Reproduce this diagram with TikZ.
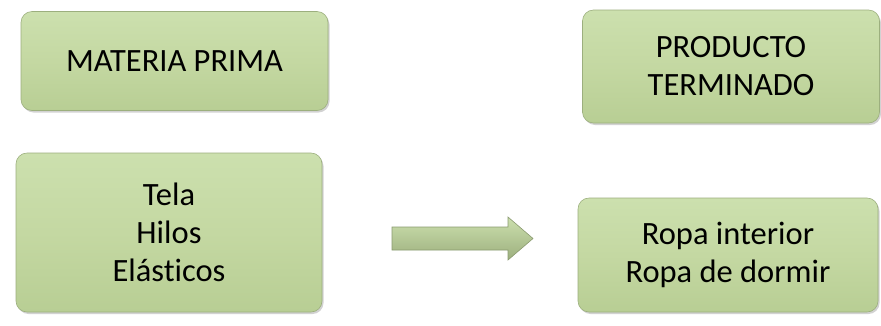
\documentclass[tikz,border=0pt]{standalone}
\usepackage{fontspec}
\setmainfont[Ligatures=NoCommon]{Carlito}
\usetikzlibrary{shadows}
\definecolor{boxgreen}{RGB}{196,216,162}
\definecolor{boxtop}{RGB}{204,224,174}
\definecolor{boxbot}{RGB}{184,206,148}
\definecolor{glow}{RGB}{232,232,232}
\tikzset{
  greenbox/.style={rectangle, rounded corners=11pt, inner sep=0pt,
    top color=boxtop, bottom color=boxbot, middle color=boxgreen,
    draw=boxbot!85!black, line width=0.6pt,
    drop shadow={shadow xshift=1.5pt, shadow yshift=-2pt, opacity=0.35, fill=gray},
    align=center, font=\fontsize{32.5}{38}\selectfont, text=black},
  blockarrow/.style={top color=boxtop, bottom color=boxbot!85!black,
    draw=boxbot!75!black, line width=0.6pt, line join=miter}
}
\begin{document}
\begin{tikzpicture}[x=1pt,y=-1pt]
\useasboundingbox[fill=white] (0,0) rectangle (881,325);
\node[greenbox, minimum width=307pt, minimum height=99pt] (mp) at (174.5,61) {MATERIA PRIMA};
\node[greenbox, minimum width=306pt, minimum height=159pt] (ins) at (169,232.5) {Tela\\Hilos\\Elásticos};
\node[greenbox, minimum width=297pt, minimum height=113pt] (pt) at (731,66.5) {PRODUCTO\\TERMINADO};
\node[greenbox, minimum width=300pt, minimum height=114pt] (prod) at (728,255) {Ropa interior\\Ropa de dormir};
\path[blockarrow] (392,227) -- (508,227) -- (508,217) -- (533,238.5) -- (508,260) -- (508,250) -- (392,250) -- cycle;
\end{tikzpicture}
\end{document}
